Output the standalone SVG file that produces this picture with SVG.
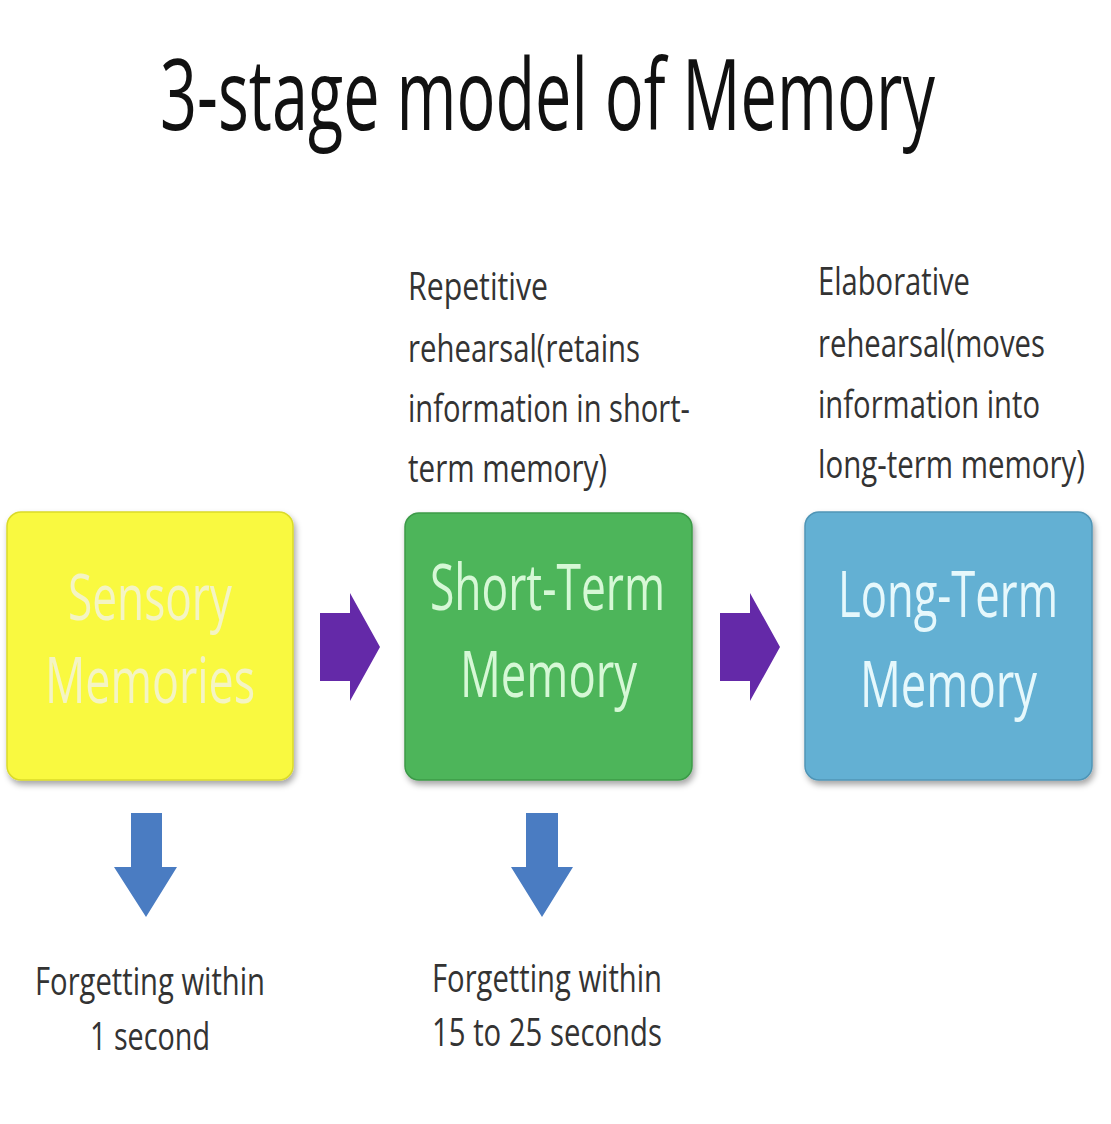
<svg xmlns="http://www.w3.org/2000/svg" width="1111" height="1124" viewBox="0 0 1111 1124">
<defs>
<style>
.t{font-family:"Open Sans","Liberation Sans",sans-serif;}
.title{font-size:98px;fill:#111;}
.note{font-size:38px;fill:#333;}
.box{font-size:64px;}
.ra{fill:#6429a8;}
.da{fill:#4a7cc2;}
</style>
<filter id="sh" x="-10%" y="-10%" width="125%" height="125%">
<feDropShadow dx="2" dy="4" stdDeviation="3" flood-color="#000" flood-opacity="0.35"/>
</filter>
</defs>
<rect width="1111" height="1124" fill="#ffffff"/>
<text class="t title" x="160" y="130" textLength="775" lengthAdjust="spacingAndGlyphs">3-stage model of Memory</text>

<g id="sensory">
<rect x="7" y="512" width="286" height="268" rx="14" fill="#f9f940" stroke="#dada2a" stroke-width="1.5" filter="url(#sh)"/>
<text class="t box" x="68" y="620" fill="#f4f4c4" textLength="164" lengthAdjust="spacingAndGlyphs">Sensory</text>
<text class="t box" x="45" y="703" fill="#f4f4c4" textLength="210" lengthAdjust="spacingAndGlyphs">Memories</text>
</g>

<g id="short-term">
<rect x="405" y="513" width="287" height="267" rx="14" fill="#4db55a" stroke="#3c9a48" stroke-width="1.5" filter="url(#sh)"/>
<text class="t box" x="430" y="610" fill="#d6f8d6" textLength="235" lengthAdjust="spacingAndGlyphs">Short-Term</text>
<text class="t box" x="460" y="697" fill="#d6f8d6" textLength="177" lengthAdjust="spacingAndGlyphs">Memory</text>
</g>

<g id="long-term">
<rect x="805" y="512" width="287" height="268" rx="14" fill="#64b0d3" stroke="#4f95b6" stroke-width="1.5" filter="url(#sh)"/>
<text class="t box" x="838" y="617" fill="#e6f8fc" textLength="220" lengthAdjust="spacingAndGlyphs">Long-Term</text>
<text class="t box" x="860" y="707" fill="#e6f8fc" textLength="177" lengthAdjust="spacingAndGlyphs">Memory</text>
</g>

<g id="note-repetitive">
<text class="t note" x="408" y="300" textLength="140" lengthAdjust="spacingAndGlyphs">Repetitive</text>
<text class="t note" x="408" y="362" textLength="232" lengthAdjust="spacingAndGlyphs">rehearsal(retains</text>
<text class="t note" x="408" y="422" textLength="282" lengthAdjust="spacingAndGlyphs">information in short-</text>
<text class="t note" x="408" y="482" textLength="199" lengthAdjust="spacingAndGlyphs">term memory)</text>
</g>

<g id="note-elaborative">
<text class="t note" x="818" y="295" textLength="152" lengthAdjust="spacingAndGlyphs">Elaborative</text>
<text class="t note" x="818" y="357" textLength="227" lengthAdjust="spacingAndGlyphs">rehearsal(moves</text>
<text class="t note" x="818" y="418" textLength="222" lengthAdjust="spacingAndGlyphs">information into</text>
<text class="t note" x="818" y="478" textLength="267" lengthAdjust="spacingAndGlyphs">long-term memory)</text>
</g>

<g id="note-forget-sensory">
<text class="t note" x="35" y="995" textLength="230" lengthAdjust="spacingAndGlyphs">Forgetting within</text>
<text class="t note" x="90" y="1050" textLength="120" lengthAdjust="spacingAndGlyphs">1 second</text>
</g>

<g id="note-forget-short">
<text class="t note" x="432" y="992" textLength="230" lengthAdjust="spacingAndGlyphs">Forgetting within</text>
<text class="t note" x="432" y="1046" textLength="230" lengthAdjust="spacingAndGlyphs">15 to 25 seconds</text>
</g>

<g id="connectors">
<polygon class="ra" points="320,613 350,613 350,593 380,647 350,701 350,681 320,681"/>
<polygon class="ra" points="720,613 750,613 750,593 780,647 750,701 750,681 720,681"/>
<polygon class="da" points="131,813 162,813 162,867 177,867 146,917 114,867 131,867"/>
<polygon class="da" points="526,813 558,813 558,867 573,867 542,917 511,867 526,867"/>
</g>
</svg>
